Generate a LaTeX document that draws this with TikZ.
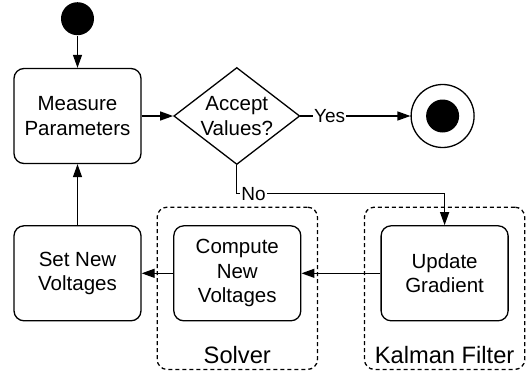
\documentclass[tikz,border=0pt]{standalone}
\usepackage{fontspec}
\setmainfont{Liberation Sans}
\usetikzlibrary{
  graphs,
  positioning,
  fit,
  calc,
  shapes.geometric,
  arrows.meta,
}
\tikzset{
  meta box/.style={
    draw,
    black,
    line width=1.3pt,
    text centered
  },
  punkt/.style={
    meta box,
    rectangle,
    rounded corners=10pt,
    inner sep=0pt,
    minimum height=95pt,
    minimum width=127pt,
    align=center,
    font=\fontsize{20.5}{24.5}\selectfont
  },
  decision/.style={
    meta box,
    diamond,
    aspect=1.3,
    inner sep=0pt,
    minimum height=97pt,
    minimum width=126pt,
    align=center,
    font=\fontsize{20.5}{24.5}\selectfont
  },
  start dot/.style={
    circle,
    fill=black,
    inner sep=0pt,
    minimum size=33pt
  },
  stop ring/.style={
    meta box,
    circle,
    inner sep=0pt,
    minimum size=63pt
  },
  group box/.style={
    draw,
    line width=1.3pt,
    dash pattern=on 4pt off 3pt,
    rounded corners=10pt,
    inner sep=0pt
  },
  group label/.style={
    inner sep=0pt,
    font=\fontsize{23.7}{28}\selectfont
  },
  edge label/.style={
    fill=white,
    inner sep=1pt,
    font=\fontsize{19}{22}\selectfont
  },
  flow/.style={
    draw,
    line width=1.3pt,
    ->
  }
}

\begin{document}
\begin{tikzpicture}[x=1pt, y=1pt, line width=1.3pt, >={Triangle[length=13pt, width=9pt]}]
  \useasboundingbox (0,0) rectangle (532,-375);

  \node[punkt] (measure) at (77.5,-116) {Measure\\Parameters};
  \node[start dot, above=32pt of measure] (start) {};
  \node[decision, right=31.5pt of measure] (accept) {Accept\\Values?};
  \node[stop ring, right=110pt of accept] (stop) {};
  \node[start dot, at=(stop.center)] (stopdot) {};
  \node[punkt, below=61pt of measure] (setv) {Set New\\Voltages};
  \node[punkt, right=31.5pt of setv] (compute) {Compute\\New\\Voltages};
  \node[punkt, right=79pt of compute] (update) {Update\\Gradient};
  \node[group label, below=24pt of compute] (solverlbl) {Solver};
  \node[group label, below=24pt of update] (kalmanlbl) {Kalman Filter};
  \node[group box, fit={($(compute.north west)+(-16pt,18pt)$) ($(compute.south east)+(16pt,-48pt)$)}] (solver) {};
  \node[group box, fit={($(update.north west)+(-16pt,18pt)$) ($(update.south east)+(16pt,-48pt)$)}] (kalman) {};
  \coordinate[below=28.5pt of accept] (nobend);

  \graph[edges=flow]{
    (start) -> (measure) -> (accept);
    (update) -> (compute) -> (setv) -> (measure);
  };
  \draw[flow] (accept) -- node[edge label, pos=0.265] {Yes} (stop);
  \draw[flow] (accept) -- (nobend)
    -| node[edge label, anchor=west, pos=0, xshift=3pt] {No} (update);
\end{tikzpicture}
\end{document}
